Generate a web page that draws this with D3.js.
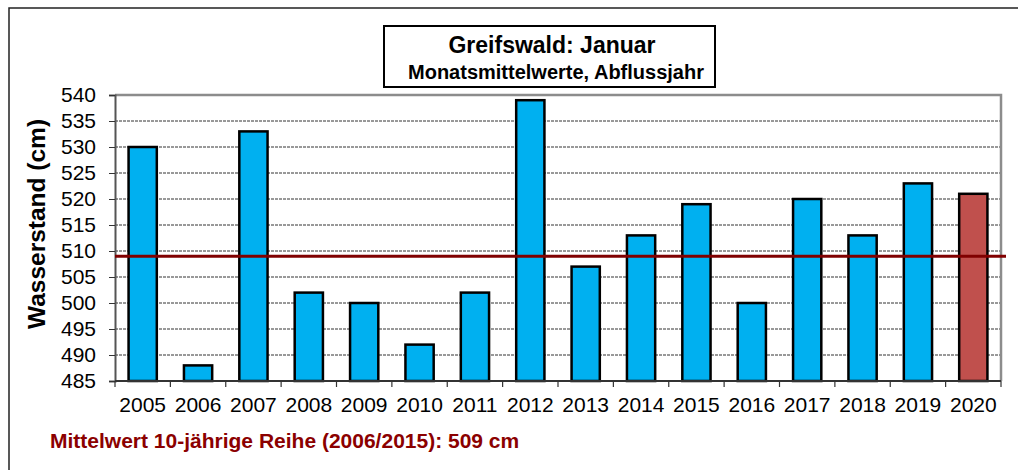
<!DOCTYPE html>
<html>
<head>
<meta charset="utf-8">
<script src="https://d3js.org/d3.v7.min.js"></script>
<style>
  body { margin: 0; background: #fff; }
  svg text { font-family: "Liberation Sans", Arial, sans-serif; }
</style>
</head>
<body>
<div id="chart"></div>
<script>
// data
var years = ["2005","2006","2007","2008","2009","2010","2011","2012","2013","2014","2015","2016","2017","2018","2019","2020"];
var pegel = [530, 488, 533, 502, 500, 492, 502, 539, 507, 513, 519, 500, 520, 513, 523, 521];
var mittelwert = 509;
var yTicks = [485, 490, 495, 500, 505, 510, 515, 520, 525, 530, 535, 540];

var width = 1018, height = 470;
var margin = {left: 115, top: 95, right: 1001, bottom: 381};

var svg = d3.select("#chart").append("svg")
    .attr("width", width)
    .attr("height", height);

// outer frame (runs off the right/bottom edge)
svg.append("rect")
   .attr("x", 9).attr("y", 8)
   .attr("width", 1040).attr("height", 480)
   .attr("fill", "#fff")
   .attr("stroke", "#222")
   .attr("stroke-width", 1.5);

var x = d3.scaleBand()
    .domain(years)
    .range([margin.left, margin.right])
    .paddingInner(0.49)
    .paddingOuter(0.245);

var y = d3.scaleLinear()
    .domain([485, 540])
    .range([margin.bottom, margin.top]);

// grid lines
svg.append("g")
   .selectAll("line")
   .data(yTicks.slice(1, -1))
   .enter().append("line")
   .attr("x1", margin.left).attr("x2", margin.right)
   .attr("y1", function(d) { return y(d); })
   .attr("y2", function(d) { return y(d); })
   .attr("stroke", "#333")
   .attr("stroke-width", 1)
   .attr("stroke-dasharray", "3,1");

// plot frame top/right (gray)
svg.append("path")
   .attr("d", "M" + margin.left + "," + margin.top + "H" + margin.right + "V" + margin.bottom)
   .attr("fill", "none")
   .attr("stroke", "#8c8c8c")
   .attr("stroke-width", 2.5);

// bars
svg.append("g")
   .selectAll("rect")
   .data(pegel)
   .enter().append("rect")
   .attr("x", function(d, i) { return x(years[i]); })
   .attr("y", function(d) { return y(d); })
   .attr("width", x.bandwidth())
   .attr("height", function(d) { return y(485) - y(d); })
   .attr("fill", function(d, i) { return years[i] === "2020" ? "#C0504D" : "#00B0F0"; })
   .attr("stroke", "#000")
   .attr("stroke-width", 2.5);

// y axis
var yAxis = svg.append("g")
   .attr("transform", "translate(" + margin.left + ",0)")
   .call(d3.axisLeft(y).tickValues(yTicks).tickSize(6).tickPadding(13).tickFormat(d3.format("d")));
yAxis.select(".domain").attr("stroke", "#555").attr("stroke-width", 2);
yAxis.selectAll(".tick line").attr("stroke", "#333");
yAxis.selectAll("text").attr("font-size", "21px").attr("fill", "#000")
     .attr("font-family", "Liberation Sans, Arial, sans-serif");

// x axis: ticks sit between categories
var xAxis = svg.append("g")
   .attr("transform", "translate(0," + margin.bottom + ")");
xAxis.append("line")
   .attr("x1", margin.left).attr("x2", margin.right)
   .attr("stroke", "#333").attr("stroke-width", 2);
var step = x.step();
var bounds = d3.range(years.length + 1).map(function(i) { return margin.left + i * step; });
xAxis.selectAll(".tk")
   .data(bounds)
   .enter().append("line")
   .attr("x1", function(d) { return d; }).attr("x2", function(d) { return d; })
   .attr("y1", 0).attr("y2", 6)
   .attr("stroke", "#333").attr("stroke-width", 1.2);
xAxis.selectAll("text")
   .data(years)
   .enter().append("text")
   .attr("x", function(d) { return x(d) + x.bandwidth() / 2; })
   .attr("y", 31)
   .attr("text-anchor", "middle")
   .attr("font-size", "21px")
   .text(function(d) { return d; });

// mean line
svg.append("line")
   .attr("x1", margin.left).attr("x2", margin.right + 5)
   .attr("y1", y(mittelwert)).attr("y2", y(mittelwert))
   .attr("stroke", "#800000")
   .attr("stroke-width", 3);

// y label
svg.append("text")
   .attr("transform", "translate(45,224) rotate(-90)")
   .attr("text-anchor", "middle")
   .attr("font-size", "24.5px")
   .attr("font-weight", "bold")
   .text("Wasserstand (cm)");

// title box
svg.append("rect")
   .attr("x", 384).attr("y", 26)
   .attr("width", 331).attr("height", 61)
   .attr("fill", "#fff")
   .attr("stroke", "#000")
   .attr("stroke-width", 2);
svg.append("text")
   .attr("x", 552).attr("y", 53)
   .attr("text-anchor", "middle")
   .attr("font-size", "23px")
   .attr("font-weight", "bold")
   .text("Greifswald: Januar");
svg.append("text")
   .attr("x", 556).attr("y", 79)
   .attr("text-anchor", "middle")
   .attr("font-size", "20px")
   .attr("font-weight", "bold")
   .text("Monatsmittelwerte, Abflussjahr");

// footer
svg.append("text")
   .attr("x", 50).attr("y", 448)
   .attr("font-size", "21px")
   .attr("font-weight", "bold")
   .attr("fill", "#8B0000")
   .text("Mittelwert 10-jährige Reihe (2006/2015): 509 cm");
</script>
</body>
</html>
